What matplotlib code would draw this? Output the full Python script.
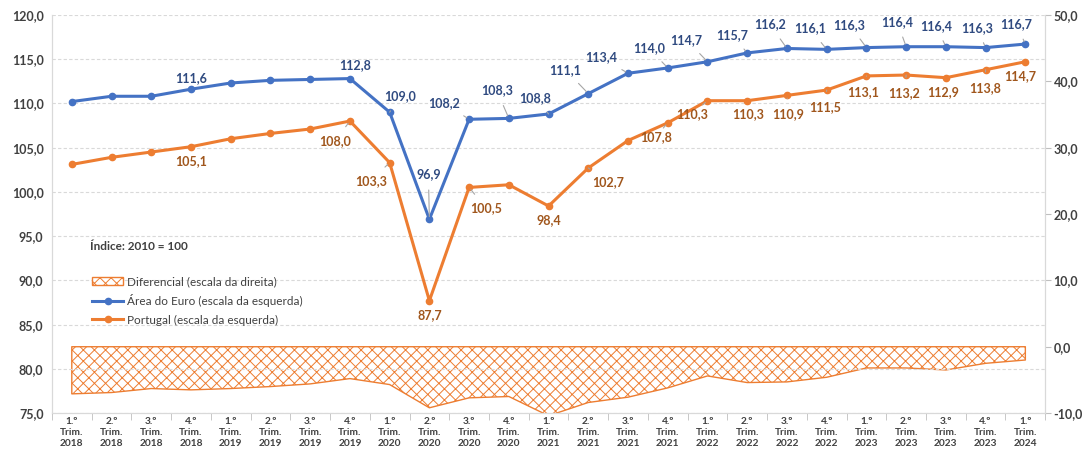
import matplotlib
matplotlib.use("Agg")
import matplotlib.pyplot as plt
from matplotlib.ticker import FuncFormatter
import numpy as np

quarters = ["1.º\nTrim.\n2018", "2.º\nTrim.\n2018", "3.º\nTrim.\n2018", "4.º\nTrim.\n2018",
            "1.º\nTrim.\n2019", "2.º\nTrim.\n2019", "3.º\nTrim.\n2019", "4.º\nTrim.\n2019",
            "1.º\nTrim.\n2020", "2.º\nTrim.\n2020", "3.º\nTrim.\n2020", "4.º\nTrim.\n2020",
            "1.º\nTrim.\n2021", "2.º\nTrim.\n2021", "3.º\nTrim.\n2021", "4.º\nTrim.\n2021",
            "1.º\nTrim.\n2022", "2.º\nTrim.\n2022", "3.º\nTrim.\n2022", "4.º\nTrim.\n2022",
            "1.º\nTrim.\n2023", "2.º\nTrim.\n2023", "3.º\nTrim.\n2023", "4.º\nTrim.\n2023",
            "1.º\nTrim.\n2024"]
euro = [110.2, 110.8, 110.8, 111.6, 112.3, 112.6, 112.7, 112.8, 109.0, 96.9, 108.2, 108.3,
        108.8, 111.1, 113.4, 114.0, 114.7, 115.7, 116.2, 116.1, 116.3, 116.4, 116.4, 116.3, 116.7]
portugal = [103.1, 103.9, 104.5, 105.1, 106.0, 106.6, 107.1, 108.0, 103.3, 87.7, 100.5, 100.8,
            98.4, 102.7, 105.8, 107.8, 110.3, 110.3, 110.9, 111.5, 113.1, 113.2, 112.9, 113.8, 114.7]
diferencial = [-7.1, -6.9, -6.3, -6.5, -6.3, -6.0, -5.6, -4.8, -5.7, -9.2, -7.7, -7.5,
               -10.4, -8.4, -7.6, -6.2, -4.4, -5.4, -5.3, -4.6, -3.2, -3.2, -3.5, -2.5, -2.0]

# which points get a label, and label offsets in pixels (dx, dy)
euro_lbl = {3: (0, 11), 7: (5, 13), 8: (10, 16), 9: (-1, 45), 10: (-25, 16), 11: (-12, 28),
            12: (-13, 16), 13: (-23, 24), 14: (-27, 16), 15: (-19, 20), 16: (-21, 22),
            17: (-15, 18), 18: (-17, 24), 19: (-17, 21), 20: (-17, 23), 21: (-9, 25),
            22: (-10, 21), 23: (-9, 20), 24: (-9, 20)}
pt_lbl = {3: (0, -14), 7: (-15, -20), 8: (-19, -18), 9: (0, -14), 10: (17, -21), 12: (0, -14),
          13: (20, -14), 15: (-12, -14), 16: (-15, -13), 17: (1, -13), 18: (1, -19),
          19: (-2, -17), 20: (-3, -16), 21: (-2, -18), 22: (-3, -14), 23: (-1, -18), 24: (-5, -14)}

blue = "#4472C4"
orange = "#ED7D31"
txt = "#404040"

plt.rcParams['font.family'] = ['Lato', 'DejaVu Sans']
plt.rcParams['hatch.linewidth'] = 0.7

fig = plt.figure(figsize=(10.82, 4.5), dpi=100)
ax = fig.add_axes([0.048, 0.082, 0.918, 0.885])
ax2 = ax.twinx()

x = np.arange(len(quarters))

ax2.fill_between(x, 0, diferencial, facecolor="white", edgecolor=orange, hatch="xxx",
                 linewidth=1.0, label="Diferencial (escala da direita)")
ax2.set_ylim(-10, 50)
ax2.set_yticks(np.arange(-10, 51, 10))

ax.set_zorder(ax2.get_zorder() + 1)
ax.patch.set_visible(False)

ax.plot(x, euro, color=blue, lw=2.2, marker="o", ms=4.5, label="Área do Euro (escala da esquerda)")
ax.plot(x, portugal, color=orange, lw=2.2, marker="o", ms=4.5, label="Portugal (escala da esquerda)")
ax.set_ylim(75, 120)
ax.set_yticks(np.arange(75, 121, 5))
ax.set_xlim(-0.5, len(quarters) - 0.5)
ax.grid(axis="y", color="#D9D9D9", ls=(0, (3, 2)), lw=0.8)

fmt = FuncFormatter(lambda v, p: f"{v:.1f}".replace(".", ","))
ax.yaxis.set_major_formatter(fmt)
ax2.yaxis.set_major_formatter(fmt)

ax.set_xticks(x)
ax.set_xticklabels(quarters, fontsize=7.3, color=txt, fontweight="bold", linespacing=1.3)
ax.set_xticks(np.arange(-0.5, len(quarters), 1), minor=True)
ax.tick_params(axis="x", which="major", length=0, pad=3)
ax.tick_params(axis="x", which="minor", length=5, color="#BFBFBF")
ax.tick_params(axis="y", length=0, labelsize=9, labelcolor=txt, pad=6)
ax2.tick_params(axis="y", length=4, color="#BFBFBF", labelsize=9, labelcolor=txt, pad=2)
for l in ax.get_yticklabels() + ax2.get_yticklabels():
    l.set_fontweight("bold")

for a in (ax, ax2):
    a.spines["top"].set_visible(False)
    for s in ("left", "right", "bottom"):
        a.spines[s].set_color("#D9D9D9")

def label(series, lbls, color):
    for i, (dx, dy) in lbls.items():
        far = (dx * dx + dy * dy) ** 0.5 > 15
        ax.annotate(f"{series[i]:.1f}".replace(".", ","), (x[i], series[i]),
                    xytext=(dx, dy), textcoords="offset pixels", ha="center", va="center",
                    fontsize=9, fontweight="bold", color=color,
                    arrowprops=dict(arrowstyle="-", color="#A6A6A6", lw=0.8,
                                    shrinkA=5, shrinkB=2) if far else None)

label(euro, euro_lbl, "#2F4A80")
label(portugal, pt_lbl, "#A0561C")

ax.text(0.038, 0.41, "Índice: 2010 = 100", transform=ax.transAxes, fontsize=8.5,
        fontweight="bold", color=txt)

h1, l1 = ax2.get_legend_handles_labels()
h2, l2 = ax.get_legend_handles_labels()
ax.legend(h1 + h2, l1 + l2, loc="upper left", bbox_to_anchor=(0.03, 0.37), frameon=False,
          fontsize=8.5, labelcolor=txt, handlelength=2.6, handletextpad=0.3, labelspacing=0.6)

fig.savefig("out.png", dpi=100)
